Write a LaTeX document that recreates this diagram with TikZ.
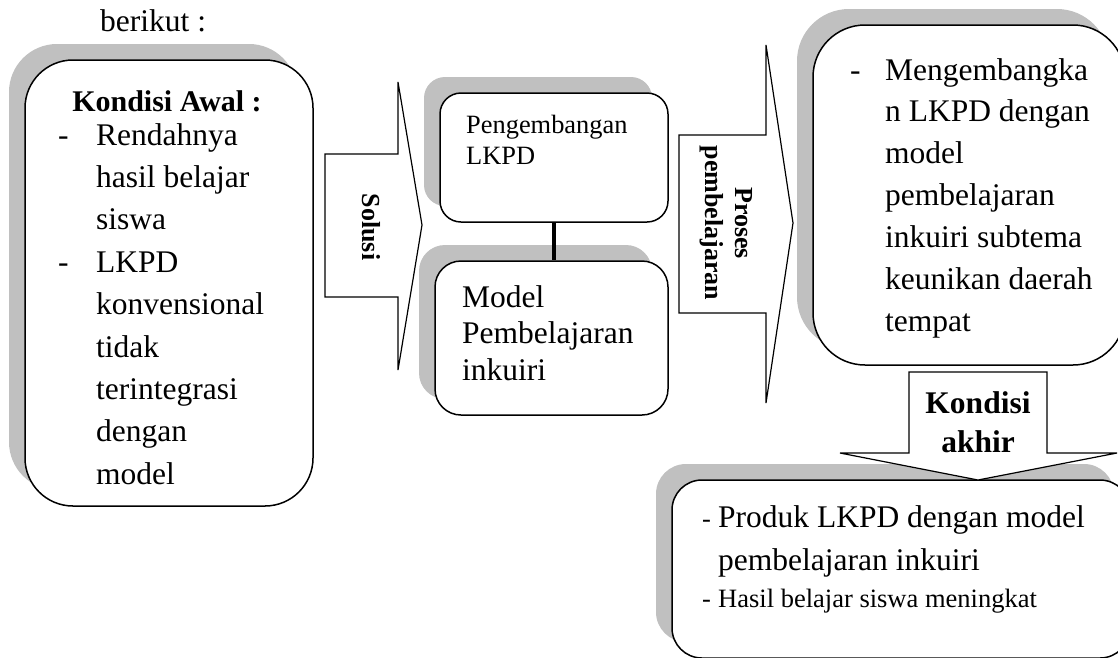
\documentclass[tikz,border=0pt]{standalone}
\usepackage{fontspec}
\setmainfont{Liberation Serif}
\usetikzlibrary{shadows}
\definecolor{shade}{RGB}{192,192,192}
\newcommand{\fbig}{\fontsize{31.5}{38}\selectfont}
\newcommand{\fsml}{\fontsize{26.5}{32}\selectfont}
\begin{document}
\begin{tikzpicture}[x=1pt,y=-1pt,
  box/.style={draw=black, line width=1.5pt, fill=white, inner sep=0pt,
    general shadow={shadow xshift=-16pt, shadow yshift=16pt, fill=shade}},
  blockarrow/.style={draw=black, line width=1.2pt, fill=white, line join=miter},
  ln/.style={inner sep=0pt, anchor=base west},
  lnc/.style={inner sep=0pt, anchor=base},
  link/.style={draw=black, line width=4pt}
]
\useasboundingbox (0,0) rectangle (1118,657);
\clip (0,0) rectangle (1118,657);
\fill[white] (0,0) rectangle (1118,657);

\node[ln, font=\fbig] (berikut) at (100,31) {berikut :};

% boxes
\node[box, minimum width=288pt, minimum height=446pt, rounded corners=48pt] (awal) at (169,283) {};
\node[box, minimum width=228pt, minimum height=129pt, rounded corners=21pt] (peng) at (554,157.5) {};
\node[box, minimum width=233pt, minimum height=154pt, rounded corners=26pt] (model) at (551.5,338) {};
\node[box, minimum width=312pt, minimum height=340pt, rounded corners=52pt] (kemb) at (969,195) {};
\node[box, minimum width=458pt, minimum height=178pt, rounded corners=30pt] (akhir) at (901,569) {};

% connector
\draw[link] (peng.south) -- (peng.south |- model.north);

% block arrows
\draw[blockarrow] (325,154) -- (398,154) -- (398,82) -- (422,225) -- (398,370) -- (398,297) -- (325,297) -- cycle;
\draw[blockarrow] (679,135) -- (766,135) -- (766,45) -- (793,223) -- (766,403) -- (766,313) -- (679,313) -- cycle;
\draw[blockarrow] (909,372) -- (1047,372) -- (1047,453) -- (1117,453) -- (978,480) -- (840,453) -- (909,453) -- cycle;

% arrow labels
\node[inner sep=0pt, rotate=-90, font=\bfseries\fontsize{26}{30}\selectfont] (solusi) at (371,227) {Solusi};
\node[inner sep=0pt, rotate=-90, align=center, font=\bfseries\fontsize{26}{30}\selectfont] (proses) at (726,223) {Proses\\pembelajaran};
\node[lnc, font=\bfseries\fbig] (ka1) at (978,413) {Kondisi};
\node[lnc, font=\bfseries\fbig] (ka2) at (978,452) {akhir};

% box 1 text
\node[lnc, font=\bfseries\fontsize{30}{36}\selectfont] (awalT) at (167,111) {Kondisi Awal :};
\node[ln, font=\fbig] (d1) at (58,145) {-};
\node[ln, font=\fbig] (d2) at (58,272.2) {-};
\foreach \t [count=\i from 0] in {Rendahnya, hasil belajar, siswa, LKPD, konvensional, tidak, terintegrasi, dengan, model}
  \node[ln, font=\fbig] (aw\i) at (96,145+42.4*\i) {\t};

% pengembangan
\node[ln, font=\fontsize{26.4}{32}\selectfont] (pg1) at (466,133) {Pengembangan};
\node[ln, font=\fontsize{26.4}{32}\selectfont] (pg2) at (466,164.5) {LKPD};

% model
\node[ln, font=\fbig] (md1) at (462,307) {Model};
\node[ln, font=\fbig] (md2) at (462,343) {Pembelajaran};
\node[ln, font=\fbig] (md3) at (462,380) {inkuiri};

% box 3 text
\node[ln, font=\fbig] (d3) at (850,80) {-};
\foreach \t [count=\i from 0] in {Mengembangka, n LKPD dengan, model, pembelajaran, inkuiri subtema, keunikan daerah, tempat}
  \node[ln, font=\fbig] (kb\i) at (885,80+41.9*\i) {\t};

% box 4 text
\node[ln, font=\fsml] (d4) at (702,527) {-};
\node[ln, font=\fbig] (pr1) at (718,527) {Produk LKPD dengan model};
\node[ln, font=\fbig] (pr2) at (718,570) {pembelajaran inkuiri};
\node[ln, font=\fsml] (d5) at (702,607) {-};
\node[ln, font=\fsml] (pr3) at (718,607) {Hasil belajar siswa meningkat};
\end{tikzpicture}
\end{document}
